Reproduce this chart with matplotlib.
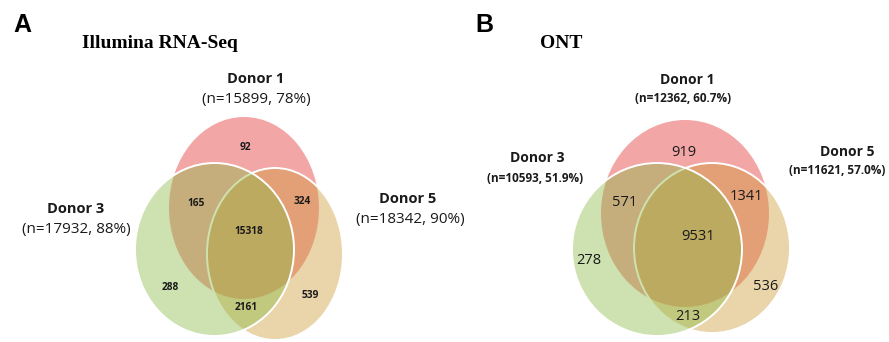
import matplotlib.pyplot as plt
from matplotlib.patches import Ellipse

W, H = 889, 342

donors = ["Donor 1", "Donor 3", "Donor 5"]

# Illumina RNA-Seq panel
illumina_n = [15899, 17932, 18342]
illumina_pct = ["78%", "88%", "90%"]
# regions: D1 only, D1&D3, D1&D5, all three, D3 only, D3&D5, D5 only
illumina_counts = [92, 165, 324, 15318, 288, 2161, 539]

# ONT panel
ont_n = [12362, 10593, 11621]
ont_pct = ["60.7%", "51.9%", "57.0%"]
ont_counts = [919, 571, 1341, 9531, 278, 213, 536]

SANS = ["Open Sans", "DejaVu Sans"]

fig = plt.figure(figsize=(W / 100, H / 100), dpi=100)
ax = fig.add_axes([0, 0, 1, 1])
ax.set_xlim(0, W)
ax.set_ylim(H, 0)
ax.axis("off")

red = (243 / 255, 166 / 255, 166 / 255, 1.0)
tan = (207 / 255, 153 / 255, 53 / 255, 0.42)
green = (136 / 255, 186 / 255, 67 / 255, 0.42)


def venn(ell, counts, spots, numsize, numweight):
    # ellipses: (cx, cy, w, h) for donor 1, 3, 5
    e1, e3, e5 = ell
    ax.add_patch(Ellipse(e1[:2], e1[2], e1[3], facecolor=red, edgecolor="none", zorder=1))
    ax.add_patch(Ellipse(e5[:2], e5[2], e5[3], facecolor=tan, edgecolor="white", lw=1.4, zorder=2))
    ax.add_patch(Ellipse(e3[:2], e3[2], e3[3], facecolor=green, edgecolor="white", lw=1.4, zorder=3))
    for c, (x, y) in zip(counts, spots):
        ax.text(x, y, str(c), ha="center", va="center", fontsize=numsize,
                fontweight=numweight, family=SANS, color="#1a1a1a", zorder=5)


def labels(pos, n, pct, name_size, sub_size, sub_weight):
    for name, k, p, (x1, y1, x2, y2) in zip(donors, n, pct, pos):
        ax.text(x1, y1, name, ha="center", va="center", fontsize=name_size,
                fontweight="bold", family=SANS, color="#1a1a1a")
        ax.text(x2, y2, f"(n={k}, {p})", ha="center", va="center", fontsize=sub_size,
                fontweight=sub_weight, family=SANS, color="#1a1a1a")


# panel A
ax.text(22, 25, "A", ha="center", va="center", fontsize=18, fontweight="bold",
        family="Liberation Sans")
ax.text(160, 43, "Illumina RNA-Seq", ha="center", va="center", fontsize=14,
        fontweight="bold", family="Liberation Serif")
venn([(244, 208, 150, 182), (214.5, 249.5, 159, 173), (275, 254, 136, 172)],
     illumina_counts,
     [(245, 148), (196, 204), (302, 202), (249, 232), (170, 287), (246, 308), (310, 296)],
     7.3, "bold")
labels([(256, 79, 256, 100), (76, 209, 76, 230), (408, 199, 410, 220)],
       illumina_n, illumina_pct, 10.5, 11, "normal")

# panel B
ax.text(484, 25, "B", ha="center", va="center", fontsize=18, fontweight="bold",
        family="Liberation Sans")
ax.text(561, 43, "ONT", ha="center", va="center", fontsize=14,
        fontweight="bold", family="Liberation Serif")
venn([(685, 213.5, 168, 187), (657, 249.5, 170, 173), (712, 248, 156, 170)],
     ont_counts,
     [(684, 153), (625, 203), (746, 197), (698, 237), (589, 260), (688, 316), (766, 286)],
     10.5, "normal")
labels([(687, 80, 683, 98), (537, 158, 535, 178), (847, 152, 837, 171)],
       ont_n, ont_pct, 10, 8.5, "bold")

fig.savefig("out.png", dpi=100)
